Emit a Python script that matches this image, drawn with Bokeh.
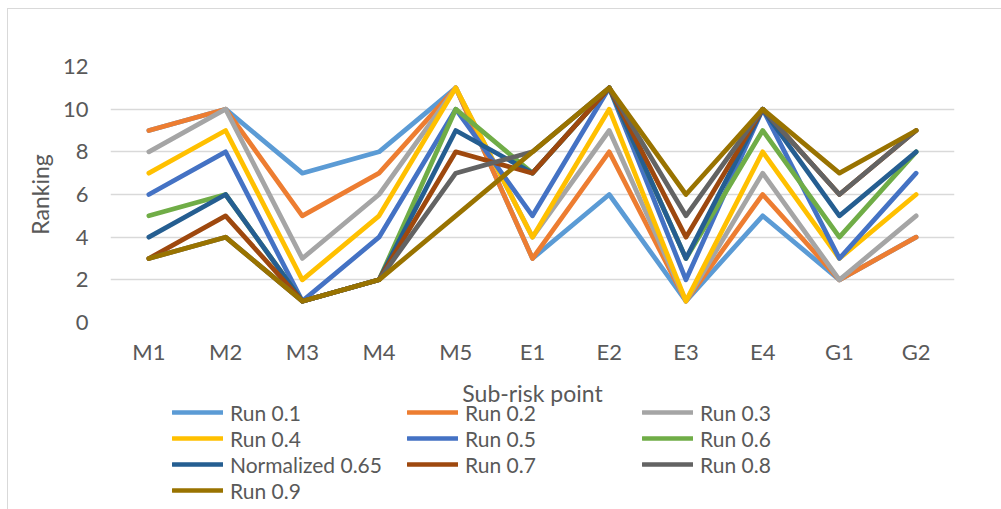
from bokeh.plotting import figure
from bokeh.layouts import column
from bokeh.models import Legend, LegendItem, FixedTicker, Label
from bokeh.embed import file_html
from bokeh.resources import INLINE

# Sub-risk points on the x axis
points = ["M1", "M2", "M3", "M4", "M5", "E1", "E2", "E3", "E4", "G1", "G2"]

# Ranking of each sub-risk point for every run
run_01 = [9, 10, 7, 8, 11, 3, 6, 1, 5, 2, 4]
run_02 = [9, 10, 5, 7, 11, 3, 8, 1, 6, 2, 4]
run_03 = [8, 10, 3, 6, 11, 4, 9, 1, 7, 2, 5]
run_04 = [7, 9, 2, 5, 11, 4, 10, 1, 8, 3, 6]
run_05 = [6, 8, 1, 4, 10, 5, 11, 2, 10, 3, 7]
run_06 = [5, 6, 1, 2, 10, 7, 11, 3, 9, 4, 8]
norm_065 = [4, 6, 1, 2, 9, 7, 11, 3, 10, 5, 8]
run_07 = [3, 5, 1, 2, 8, 7, 11, 4, 10, 6, 9]
run_08 = [3, 4, 1, 2, 7, 8, 11, 5, 10, 6, 9]
run_09 = [3, 4, 1, 2, 5, 8, 11, 6, 10, 7, 9]

series_names = ["Run 0.1", "Run 0.2", "Run 0.3", "Run 0.4", "Run 0.5",
                "Run 0.6", "Normalized 0.65", "Run 0.7", "Run 0.8", "Run 0.9"]
series_values = [run_01, run_02, run_03, run_04, run_05,
                 run_06, norm_065, run_07, run_08, run_09]
series_colors = ["#5B9BD5", "#ED7D31", "#A5A5A5", "#FFC000", "#4472C4",
                 "#70AD47", "#255E91", "#9E480E", "#636363", "#997300"]

y_ticks = [0, 2, 4, 6, 8, 10, 12]
x_title = "Sub-risk point"
y_title = "Ranking"

FONT = "Lato"
TEXT = "#595959"
GRID = "#D9D9D9"
W = 993

# ---- plot area with both axes ----
p = figure(
    width=W, height=363,
    x_range=points, y_range=(0, 12),
    output_backend="svg", toolbar_location=None,
    min_border_left=102, min_border_right=47,
    min_border_top=57, min_border_bottom=50,
)
p.x_range.range_padding = 0
p.outline_line_color = None
p.background_fill_color = "white"
p.border_fill_color = "white"

p.xgrid.grid_line_color = None
p.ygrid.grid_line_color = GRID
p.ygrid.grid_line_width = 1.5
p.yaxis.ticker = FixedTicker(ticks=y_ticks)

for ax in (p.xaxis, p.yaxis):
    ax.axis_line_color = None
    ax.major_tick_line_color = None
    ax.minor_tick_line_color = None
    ax.major_tick_out = 0
    ax.major_label_text_font = FONT
    ax.major_label_text_color = TEXT
    ax.major_label_text_font_size = "22px"
    ax.axis_label_text_font = FONT
    ax.axis_label_text_color = TEXT
    ax.axis_label_text_font_style = "normal"

p.xaxis.major_label_standoff = 15

p.yaxis.axis_label = y_title
p.yaxis.axis_label_text_font_size = "23px"
p.yaxis.major_label_standoff = 22
p.yaxis.axis_label_standoff = 6

for vals, col in zip(series_values, series_colors):
    p.line(points, vals, line_color=col, line_width=4.75,
           line_join="round", line_cap="round")

# ---- x-axis title and legend strip ----
q = figure(
    width=W, height=137, x_range=(0, 1), y_range=(0, 1),
    output_backend="svg", toolbar_location=None, min_border=0,
)
q.xaxis.visible = False
q.yaxis.visible = False
q.xgrid.visible = False
q.ygrid.visible = False
q.outline_line_color = None
q.background_fill_color = "white"
q.border_fill_color = "white"

q.add_layout(Label(
    x=422, y=117, x_units="screen", y_units="screen",
    text=x_title, text_align="center", text_baseline="middle",
    text_font=FONT, text_font_size="23px", text_color=TEXT,
))

# legend keys: one swatch line per series, kept outside the visible range
items = []
for name, col in zip(series_names, series_colors):
    r = q.line(x=[5, 6], y=[5, 6], line_color=col, line_width=4.3,
               line_cap="round")
    items.append(LegendItem(label=name, renderers=[r]))

legend = Legend(
    items=items, orientation="horizontal", ncols=3,
    location=(62, 6),
    glyph_width=51, glyph_height=26, label_height=26, label_width=177,
    label_standoff=7, spacing=0, padding=0, margin=0,
    label_text_font=FONT, label_text_font_size="21px",
    label_text_color=TEXT, label_text_baseline="middle",
    border_line_color=None, background_fill_alpha=0,
)
q.add_layout(legend, "center")

# chart area: offset from the page corner with a thin grey edge
layout = column(p, q, spacing=0)
layout.margin = (9, 0, 0, 8)
layout.styles = {"outline": "1px solid #D9D9D9"}

open("out.html", "w").write(file_html(layout, INLINE))
